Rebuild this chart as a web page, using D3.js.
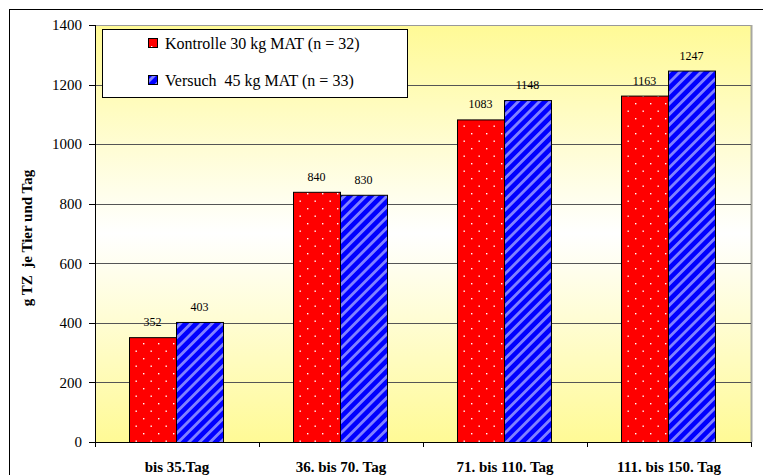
<!DOCTYPE html>
<html>
<head>
<meta charset="utf-8">
<script src="https://cdn.jsdelivr.net/npm/d3@7"></script>
<style>
  html, body { margin: 0; padding: 0; background: #fff; }
  svg { display: block; }
  svg text { font-family: "Liberation Serif", "Times New Roman", serif; fill: #000; }
  .grid-line { stroke: #555; stroke-width: 1; shape-rendering: crispEdges; }
  .axis path, .axis line { stroke: #000; shape-rendering: crispEdges; }
</style>
</head>
<body>
<svg width="763" height="475"></svg>
<script>
'use strict';

// data
var CATEGORIES = ['bis 35.Tag', '36. bis 70. Tag', '71. bis 110. Tag', '111. bis 150. Tag'];
var KONTROLLE = [352, 840, 1083, 1163];
var VERSUCH = [403, 830, 1148, 1247];
var SERIES_NAMES = ['Kontrolle 30 kg MAT (n = 32)', 'Versuch  45 kg MAT (n = 33)'];
var Y_TICKS = [0, 200, 400, 600, 800, 1000, 1200, 1400];

var SERIF = '"Liberation Serif", "Times New Roman", serif';
var svg = d3.select('svg');
var width = 763, height = 475;
var margin = { top: 25, right: 12, bottom: 33, left: 95 };
var innerWidth = width - margin.left - margin.right;
var innerHeight = height - margin.top - margin.bottom;

var xScale = d3.scaleBand().domain(CATEGORIES).range([0, innerWidth]).paddingInner(0).paddingOuter(0);
var xSub = d3.scaleBand().domain([0, 1]).range([34, xScale.bandwidth() - 36]);
var yScale = d3.scaleLinear().domain([0, 1400]).range([innerHeight, 0]);

// patterns + background gradient
var defs = svg.append('defs');

var bg = defs.append('linearGradient').attr('id', 'bg').attr('x1', 0).attr('y1', 0).attr('x2', 0).attr('y2', 1);
bg.append('stop').attr('offset', '0%').attr('stop-color', '#fffa96');
bg.append('stop').attr('offset', '50%').attr('stop-color', '#ffffff');
bg.append('stop').attr('offset', '100%').attr('stop-color', '#fffa96');

var dots = defs.append('pattern').attr('id', 'dots').attr('patternUnits', 'userSpaceOnUse')
  .attr('width', 15).attr('height', 15);
dots.append('rect').attr('width', 15).attr('height', 15).attr('fill', '#ff0000');
dots.append('rect').attr('x', 3).attr('y', 3).attr('width', 1.4).attr('height', 1.4).attr('fill', '#fff');
dots.append('rect').attr('x', 10.5).attr('y', 10.5).attr('width', 1.4).attr('height', 1.4).attr('fill', '#fff');

var stripes = defs.append('pattern').attr('id', 'stripes').attr('patternUnits', 'userSpaceOnUse')
  .attr('width', 7.5).attr('height', 7.5).attr('patternTransform', 'rotate(45)');
stripes.append('rect').attr('width', 7.5).attr('height', 7.5).attr('fill', '#0000ff');
stripes.append('rect').attr('x', 0).attr('width', 2.8).attr('height', 7.5).attr('fill', '#8080ff');

var FILLS = ['url(#dots)', 'url(#stripes)'];

// outer chart frame
svg.append('rect').attr('x', 9.5).attr('y', 9.5).attr('width', 800).attr('height', 500)
  .attr('fill', '#fff').attr('stroke', '#000').attr('stroke-width', 1);

var inner = svg.append('g').attr('class', 'inner')
  .attr('transform', 'translate(' + margin.left + ',' + margin.top + ')');

// plot area
inner.append('rect').attr('x', 0).attr('y', 0).attr('width', innerWidth).attr('height', innerHeight)
  .attr('fill', 'url(#bg)');
inner.append('line').attr('x1', 0).attr('x2', innerWidth).attr('y1', 0.5).attr('y2', 0.5)
  .attr('stroke', '#999');
inner.append('line').attr('x1', innerWidth + 0.5).attr('x2', innerWidth + 0.5).attr('y1', 0).attr('y2', innerHeight)
  .attr('stroke', '#a8a8a0').attr('stroke-width', 2);

inner.append('g').attr('class', 'line-group').selectAll('.grid-line')
  .data(Y_TICKS.filter(function (d) { return d > 0 && d < 1400; }))
  .enter().append('line').attr('class', 'grid-line')
  .attr('x1', 0).attr('x2', innerWidth)
  .attr('y1', function (d) { return Math.round(yScale(d)) + 0.5; })
  .attr('y2', function (d) { return Math.round(yScale(d)) + 0.5; });

// bars
var rows = CATEGORIES.map(function (c, i) { return { cat: c, values: [KONTROLLE[i], VERSUCH[i]] }; });
function pairs(d) { return d.values.map(function (v, k) { return { k: k, v: v }; }); }

var groups = inner.selectAll('g.group').data(rows).enter().append('g').attr('class', 'group')
  .attr('transform', function (d) { return 'translate(' + xScale(d.cat) + ',0)'; });

groups.selectAll('rect.bar').data(pairs)
  .enter().append('rect').attr('class', 'bar')
  .attr('x', function (d) { return xSub(d.k) + 0.5; })
  .attr('y', function (d) { return yScale(d.v) + 0.5; })
  .attr('width', xSub.bandwidth())
  .attr('height', function (d) { return innerHeight - yScale(d.v); })
  .attr('fill', function (d) { return FILLS[d.k]; })
  .attr('stroke', '#000').attr('stroke-width', 1);

groups.selectAll('text.val').data(pairs)
  .enter().append('text').attr('class', 'val')
  .attr('x', function (d) { return xSub(d.k) + xSub.bandwidth() / 2; })
  .attr('y', function (d) { return yScale(d.v) - 11; })
  .attr('text-anchor', 'middle').attr('font-family', SERIF).attr('font-size', 12)
  .text(function (d) { return d.v; });

// axes
var yAxis = d3.axisLeft(yScale).tickValues(Y_TICKS).tickFormat(d3.format('d')).tickSize(6).tickPadding(7);
var ya = inner.append('g').attr('class', 'y axis').call(yAxis);
ya.attr('font-family', SERIF).attr('font-size', 15);
ya.select('.domain').attr('d', 'M0.5,0V' + innerHeight);

var xa = inner.append('g').attr('class', 'x axis').attr('transform', 'translate(0,' + innerHeight + ')');
xa.append('line').attr('x1', 0).attr('x2', innerWidth).attr('y1', 0.5).attr('y2', 0.5).attr('stroke', '#000');
xa.selectAll('line.tick').data(d3.range(CATEGORIES.length + 1)).enter().append('line').attr('class', 'tick')
  .attr('x1', function (i) { return Math.round(i * xScale.step()) + 0.5; })
  .attr('x2', function (i) { return Math.round(i * xScale.step()) + 0.5; })
  .attr('y1', 0).attr('y2', 5).attr('stroke', '#000');
xa.selectAll('text').data(CATEGORIES).enter().append('text')
  .attr('x', function (d) { return xScale(d) + xScale.bandwidth() / 2; })
  .attr('y', 30).attr('text-anchor', 'middle').attr('font-family', SERIF)
  .attr('font-size', 15).attr('font-weight', 'bold')
  .text(function (d) { return d; });

svg.append('text').attr('transform', 'translate(32,238) rotate(-90)')
  .attr('text-anchor', 'middle').attr('font-family', SERIF).attr('font-size', 15).attr('font-weight', 'bold')
  .attr('xml:space', 'preserve').style('white-space', 'pre')
  .text('g TZ  je Tier und Tag');

// legend
var legend = svg.append('g').attr('class', 'legend');
legend.append('rect').attr('x', 102.5).attr('y', 29.5).attr('width', 305).attr('height', 68)
  .attr('fill', '#fff').attr('stroke', '#000');
var items = legend.selectAll('g.item').data(SERIES_NAMES).enter().append('g').attr('class', 'item')
  .attr('transform', function (d, i) { return 'translate(148,' + (43 + i * 37) + ')'; });
items.append('rect').attr('x', 0.5).attr('y', -4.5).attr('width', 9).attr('height', 9)
  .attr('fill', function (d, i) { return FILLS[i]; }).attr('stroke', '#000');
items.append('text').attr('x', 17).attr('y', 5.5).attr('font-family', SERIF).attr('font-size', 16)
  .attr('xml:space', 'preserve').style('white-space', 'pre')
  .text(function (d) { return d; });
</script>
</body>
</html>
